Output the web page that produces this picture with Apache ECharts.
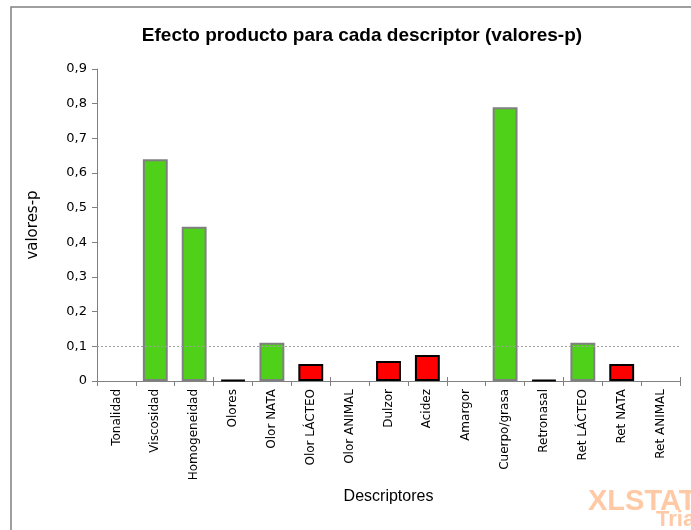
<!DOCTYPE html>
<html>
<head>
<meta charset="utf-8">
<script src="https://cdn.jsdelivr.net/npm/echarts@6/dist/echarts.min.js"></script>
<style>html,body{margin:0;padding:0;background:#fff;}#c{width:691px;height:530px;}</style>
</head>
<body>
<div id="c"></div>
<script>
var categories = ["Tonalidad","Viscosidad","Homogeneidad","Olores","Olor NATA","Olor LÁCTEO","Olor ANIMAL","Dulzor","Acidez","Amargor","Cuerpo/grasa","Retronasal","Ret LÁCTEO","Ret NATA","Ret ANIMAL"];
var pValues = [null, 0.640, 0.445, 0.003, 0.110, 0.049, null, 0.058, 0.075, null, 0.790, 0.003, 0.110, 0.049, null];
var yTicks = [0, 0.1, 0.2, 0.3, 0.4, 0.5, 0.6, 0.7, 0.8, 0.9];
var threshold = 0.1;

var chart = echarts.init(document.getElementById('c'));
var barData = pValues.map(function (v) {
  if (v === null) return null;
  var sig = v < threshold;
  return {
    value: v,
    itemStyle: {
      color: sig ? '#ff0000' : '#4fd11a',
      borderColor: sig ? '#000000' : '#808080',
      borderWidth: 2
    }
  };
});
var font = 'Tahoma, "DejaVu Sans", sans-serif';
chart.setOption({
  animation: false,
  title: {
    text: 'Efecto producto para cada descriptor (valores-p)',
    left: 357, top: 21, textAlign: 'center',
    textStyle: { fontFamily: 'Liberation Sans, Arial, sans-serif', fontWeight: 'bold', fontSize: 19, color: '#000' }
  },
  graphic: [
    { type: 'rect', shape: { x: 11, y: 7, width: 700, height: 540 }, style: { fill: 'none', stroke: '#808080', lineWidth: 1.5 }, silent: true },
    { type: 'text', left: 588, top: 487, style: { text: 'XLSTAT', fill: '#ffc9a6', font: 'bold 29px "Liberation Sans", Arial, sans-serif' } },
    { type: 'text', left: 656, top: 509, style: { text: 'Trial', fill: '#ffc9a6', font: 'bold 22px "Liberation Sans", Arial, sans-serif' } }
  ],
  grid: { left: 97, right: 11, top: 69, bottom: 149, containLabel: false },
  xAxis: [{
    type: 'category',
    data: categories,
    name: 'Descriptores',
    nameLocation: 'middle',
    nameGap: 107,
    nameTextStyle: { fontFamily: 'Liberation Sans, Arial, sans-serif', fontSize: 16, color: '#000' },
    axisLine: { lineStyle: { color: '#808080', width: 1 } },
    axisTick: { show: true, length: 5, lineStyle: { color: '#808080' } },
    axisLabel: { rotate: 90, interval: 0, fontFamily: font, fontSize: 12, color: '#000', margin: 8 }
  }, {
    type: 'category',
    data: categories,
    position: 'bottom',
    axisLine: { show: false },
    axisTick: { show: true, inside: true, length: 4, lineStyle: { color: '#808080' } },
    axisLabel: { show: false }
  }],
  yAxis: {
    type: 'value',
    min: 0, max: 0.9, interval: 0.1,
    name: 'valores-p',
    nameLocation: 'middle',
    nameGap: 56,
    nameTextStyle: { fontFamily: font, fontSize: 15, color: '#000' },
    axisLine: { show: true, lineStyle: { color: '#808080' } },
    axisTick: { show: true, length: 5, lineStyle: { color: '#808080' } },
    splitLine: { show: false },
    axisLabel: {
      fontFamily: font, fontSize: 13, color: '#000', margin: 10,
      formatter: function (v) {
        var r = Math.round(v * 10) / 10;
        return r === 0 ? '0' : String(r).replace('.', ',');
      }
    }
  },
  series: [{
    type: 'bar',
    data: barData,
    barWidth: '64%',
    markLine: {
      silent: true, symbol: 'none', label: { show: false },
      lineStyle: { color: '#a0a0a0', type: [2, 2], width: 1 },
      data: [{ yAxis: threshold }]
    }
  }]
});
</script>
</body>
</html>
